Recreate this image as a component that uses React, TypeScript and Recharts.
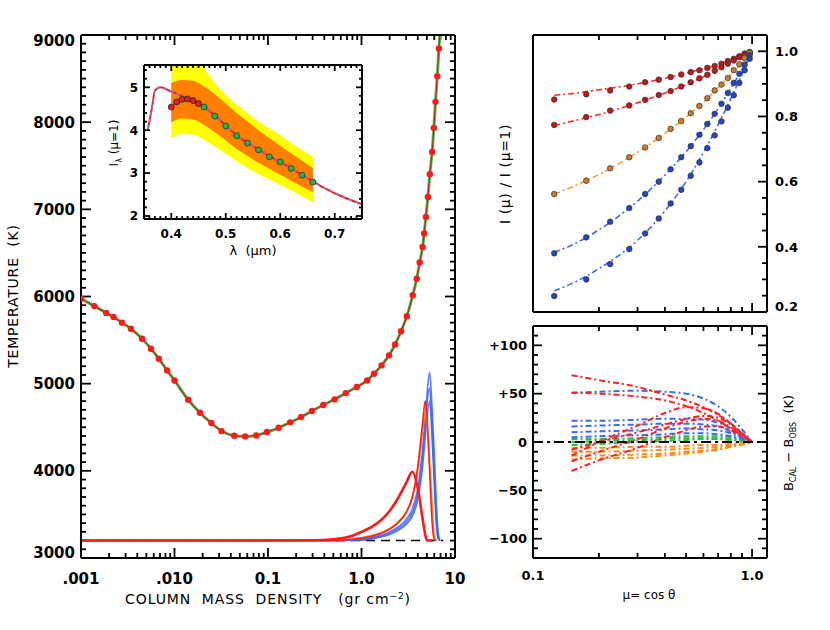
import React from 'react';
import { ComposedChart, Line, Area, XAxis, YAxis, ReferenceLine } from 'recharts';

const FONT = "'DejaVu Sans', 'Liberation Sans', sans-serif";

// ---- main panel: temperature model (red dots on the green curve)
const MASS = [0.001, 0.00139, 0.00186, 0.00223, 0.00274, 0.00342, 0.00449, 0.00561, 0.00679, 0.00834, 0.01, 0.014, 0.0187, 0.0248, 0.0318, 0.0435, 0.057, 0.0748, 0.0975, 0.13, 0.173, 0.226, 0.295, 0.39, 0.516, 0.679, 0.891, 1.15, 1.36, 1.64, 1.97, 2.29, 2.65, 3.05, 3.53, 3.9, 4.19, 4.5, 4.68, 4.88, 5.13, 5.38, 5.7, 5.94, 6.19, 6.46, 6.73, 7.24];
const TEMP = [5975, 5890, 5812, 5765, 5700, 5630, 5516, 5401, 5286, 5152, 5037, 4816, 4666, 4548, 4456, 4403, 4395, 4406, 4445, 4494, 4556, 4617, 4686, 4755, 4820, 4892, 4961, 5037, 5114, 5210, 5325, 5450, 5601, 5773, 6014, 6205, 6390, 6568, 6722, 6912, 7142, 7403, 7659, 7934, 8233, 8527, 8846, 9400];

// response functions, drawn on top of the 3200 K baseline
const BASE_T = 3200;
const BASE_MASS = [0.001, 7.5];
const RESP_MASS = [0.001, 0.1, 0.3, 0.5, 0.8, 1.0, 1.3, 1.6, 2.0, 2.5, 3.0, 3.5, 4.0, 4.5, 4.8, 5.0, 5.35, 5.7, 6.0, 6.3, 6.6, 6.9];
const RESP_RED = [3200, 3200, 3203, 3215, 3255, 3300, 3360, 3430, 3540, 3700, 3860, 3990, 3800, 3450, 3270, 3205, 3200, 3200, null, null, null, null];
const RESP_ORANGE = [3200, 3200, 3201, 3205, 3220, 3235, 3260, 3290, 3340, 3420, 3530, 3700, 4000, 4450, 4680, 4550, 4100, 3600, 3250, 3200, null, null];
const RESP_RED2 = [3200, 3200, 3200, 3203, 3215, 3228, 3250, 3280, 3330, 3410, 3520, 3700, 4050, 4550, 4800, 4650, 4000, 3400, 3210, 3200, null, null];
const RESP_BLUE1 = [3200, 3200, 3200, 3202, 3208, 3215, 3235, 3260, 3300, 3360, 3440, 3560, 3800, 4250, 4600, 4850, 5130, 4700, 4200, 3650, 3300, 3200];
const RESP_BLUE2 = [3200, 3200, 3200, 3201, 3205, 3210, 3228, 3250, 3285, 3340, 3410, 3520, 3730, 4150, 4500, 4750, 4950, 4500, 4000, 3500, 3250, 3200];
const RESP_BLUE3 = [3200, 3200, 3200, 3201, 3203, 3205, 3220, 3240, 3270, 3320, 3385, 3480, 3670, 4050, 4380, 4600, 4800, 4350, 3850, 3400, 3220, 3200];

// ---- inset: I_lambda(mu=1)
const LAM_MODEL = [0.357, 0.365, 0.37, 0.38, 0.39, 0.40, 0.42, 0.44, 0.46, 0.48, 0.50, 0.52, 0.54, 0.56, 0.58, 0.60, 0.62, 0.64, 0.66, 0.70, 0.75];
const I_MODEL = [4.02, 4.55, 4.92, 5.0, 4.96, 4.9, 4.8, 4.68, 4.55, 4.34, 4.11, 3.88, 3.71, 3.55, 3.39, 3.26, 3.11, 2.96, 2.8, 2.53, 2.27];
const LAM_RED = [0.40, 0.41, 0.42, 0.43, 0.44, 0.45];
const I_RED = [4.54, 4.66, 4.72, 4.73, 4.69, 4.62];
const LAM_GREEN = [0.46, 0.48, 0.50, 0.52, 0.54, 0.56, 0.58, 0.60, 0.62, 0.64, 0.66];
const I_GREEN = [4.54, 4.33, 4.10, 3.87, 3.70, 3.54, 3.38, 3.26, 3.11, 2.95, 2.79];
const LAM_BAND = [0.40, 0.42, 0.44, 0.46, 0.48, 0.50, 0.52, 0.54, 0.56, 0.58, 0.60, 0.62, 0.64, 0.66];
const YEL_HI = [5.9, 5.95, 5.75, 5.45, 5.1, 4.82, 4.6, 4.4, 4.2, 4.04, 3.88, 3.7, 3.54, 3.38];
const YEL_LO = [3.8, 3.92, 3.9, 3.78, 3.62, 3.45, 3.27, 3.12, 2.98, 2.85, 2.72, 2.6, 2.46, 2.32];
const ORA_HI = [5.1, 5.17, 5.15, 5.02, 4.84, 4.62, 4.4, 4.2, 4.0, 3.82, 3.64, 3.46, 3.29, 3.12];
const ORA_LO = [4.18, 4.27, 4.25, 4.12, 3.95, 3.76, 3.56, 3.4, 3.24, 3.1, 2.96, 2.82, 2.68, 2.56];

// ---- top right: centre-to-limb variation, observed (dots) and fitted (dash-dot)
const MU_OBS = [0.125, 0.175, 0.225, 0.275, 0.325, 0.375, 0.425, 0.475, 0.525, 0.575, 0.625, 0.675, 0.725, 0.775, 0.825, 0.875, 0.925, 0.975];
const CLV_1 = [0.852, 0.868, 0.880, 0.892, 0.905, 0.913, 0.921, 0.929, 0.936, 0.942, 0.949, 0.955, 0.962, 0.970, 0.977, 0.985, 0.993, 0.997];
const CLV_2 = [0.774, 0.798, 0.818, 0.834, 0.851, 0.866, 0.878, 0.892, 0.905, 0.917, 0.928, 0.940, 0.951, 0.962, 0.972, 0.982, 0.990, 0.998];
const CLV_3 = [0.562, 0.603, 0.641, 0.675, 0.705, 0.734, 0.762, 0.786, 0.810, 0.832, 0.856, 0.880, 0.898, 0.918, 0.942, 0.960, 0.980, 0.995];
const CLV_4 = [0.380, 0.429, 0.477, 0.519, 0.562, 0.600, 0.638, 0.675, 0.709, 0.744, 0.777, 0.808, 0.839, 0.872, 0.903, 0.931, 0.959, 0.988];
const CLV_5 = [0.249, 0.300, 0.347, 0.393, 0.441, 0.487, 0.533, 0.575, 0.618, 0.659, 0.703, 0.742, 0.785, 0.827, 0.865, 0.903, 0.942, 0.977];
const MU_FIT = [0.125, 0.15, 0.2, 0.3, 0.4, 0.5, 0.6, 0.7, 0.8, 0.9, 1.0];
const FIT_1 = [0.865, 0.870, 0.882, 0.900, 0.917, 0.933, 0.947, 0.960, 0.973, 0.986, 1.0];
const FIT_2 = [0.772, 0.785, 0.806, 0.842, 0.872, 0.898, 0.922, 0.945, 0.965, 0.983, 1.0];
const FIT_3 = [0.562, 0.583, 0.622, 0.690, 0.748, 0.798, 0.845, 0.888, 0.928, 0.965, 1.0];
const FIT_4 = [0.383, 0.405, 0.452, 0.540, 0.620, 0.692, 0.760, 0.824, 0.886, 0.944, 1.0];
const FIT_5 = [0.265, 0.287, 0.333, 0.420, 0.510, 0.600, 0.690, 0.775, 0.855, 0.930, 1.0];

// ---- bottom right: B_cal - B_obs residuals
const MU_RES = [0.15, 0.2, 0.3, 0.4, 0.5, 0.6, 0.7, 0.8, 0.9, 1.0];
const RES_ORANGE = [
  [-6, -6, -5, -5, -4, -3, -3, -2, -1, 0],
  [-10, -10, -9, -8, -7, -6, -5, -3, -2, 0],
  [-14, -14, -13, -12, -10, -9, -7, -5, -2, 0],
  [-18, -17, -16, -14, -12, -10, -8, -5, -3, 0],
];
const RES_GREEN = [
  [3, 3, 4, 5, 6, 6, 6, 5, 3, 0],
  [0, 1, 2, 3, 4, 4, 4, 3, 2, 0],
  [-3, -2, 0, 1, 2, 3, 3, 2, 1, 0],
];
const RES_BLUE = [
  [51, 52, 53, 52, 50, 45, 37, 26, 13, 0],
  [22, 22, 23, 24, 24, 23, 20, 14, 7, 0],
  [16, 17, 18, 19, 19, 18, 16, 11, 5, 0],
  [10, 11, 12, 13, 14, 13, 12, 9, 4, 0],
  [5, 6, 7, 8, 9, 9, 8, 6, 3, 0],
];
const RES_RED = [
  [69, 64, 57, 49, 43, 36, 28, 19, 9, 0],
  [51, 50, 47, 43, 37, 30, 22, 14, 7, 0],
  [-14, 0, 17, 30, 36, 35, 29, 19, 9, 0],
  [-8, 0, 10, 18, 24, 27, 25, 18, 8, 0],
  [-20, -10, 3, 14, 21, 24, 22, 15, 7, 0],
  [-30, -19, -6, 5, 12, 16, 16, 12, 6, 0],
];

const pts = (xs: number[], ys: (number | null)[]) => xs.map((x, i) => ({ x, y: ys[i] }));

const logTicks = (lo: number, hi: number) => {
  const out: number[] = [];
  for (let d = lo; d < hi * 0.999; d = +(d * 10).toPrecision(6)) {
    for (let k = 1; k < 10; k++) out.push(+(d * k).toPrecision(6));
  }
  out.push(hi);
  return out;
};
const linTicks = (lo: number, hi: number, step: number) => {
  const out: number[] = [];
  for (let v = lo; v <= hi + step / 1000; v += step) out.push(+v.toFixed(4));
  return out;
};
const near = (a: number, b: number) => Math.abs(a - b) <= 1e-6 * Math.max(1e-3, Math.abs(b));

type Side = 'top' | 'bottom' | 'left' | 'right';
type LabCfg = { side: Side; fmt: (v: number) => string; fs?: number; gap?: number; lo?: number; hi?: number };

// tick label text only
const labelRenderer = (c: LabCfg) => (p: any) => {
  const { x, y, payload } = p;
  const label = c.fmt(Number(payload.value));
  if (!label) return <g />;
  const fs = c.fs ?? 14;
  const gap = c.gap ?? 6;
  if (c.side === 'bottom') {
    return <text x={x} y={y + gap} textAnchor="middle" fontFamily={FONT} fontSize={fs} fontWeight="bold" fill="#000">{label}</text>;
  }
  const ty = Math.min(Math.max(y, c.lo ?? -1e9), c.hi ?? 1e9);
  return (
    <text x={c.side === 'left' ? x - gap : x + gap} y={ty} dy="0.36em" textAnchor={c.side === 'left' ? 'end' : 'start'} fontFamily={FONT} fontSize={fs} fontWeight="bold" fill="#000">
      {label}
    </text>
  );
};

const AX = { stroke: '#000', strokeWidth: 2 };

// frame: four mirrored axes that only draw their axis line
function frame(xd: number[], yd: number[], xlog: boolean) {
  const xs: any = { type: 'number', domain: xd, allowDataOverflow: true, scale: xlog ? 'log' : 'auto', mirror: true, tick: false, tickLine: false, axisLine: AX };
  const ys: any = { type: 'number', domain: yd, allowDataOverflow: true, mirror: true, tick: false, tickLine: false, axisLine: AX };
  return [
    <XAxis key="fb" xAxisId="fb" orientation="bottom" {...xs} />,
    <XAxis key="ft" xAxisId="ft" orientation="top" {...xs} />,
    <YAxis key="fl" yAxisId="fl" orientation="left" {...ys} />,
    <YAxis key="fr" yAxisId="fr" orientation="right" {...ys} />,
  ];
}

// inward tick marks drawn as short reference segments; len in px converted through the plot size
type Box = { xd: number[]; yd: number[]; xlog: boolean; w: number; h: number };
function tickMarks(id: string, side: Side, vals: number[], majors: number[], big: number, small: number, b: Box) {
  return vals.map((v, i) => {
    const len = majors.some((m) => near(v, m)) ? big : small;
    let seg;
    if (side === 'bottom' || side === 'top') {
      const y0 = side === 'bottom' ? b.yd[0] : b.yd[1];
      const dir = side === 'bottom' ? 1 : -1;
      seg = [{ x: v, y: y0 }, { x: v, y: y0 + (dir * len * (b.yd[1] - b.yd[0])) / b.h }];
    } else {
      const x0 = side === 'left' ? b.xd[0] : b.xd[1];
      const dir = side === 'left' ? 1 : -1;
      const x1 = b.xlog ? x0 * Math.pow(b.xd[1] / b.xd[0], (dir * len) / b.w) : x0 + (dir * len * (b.xd[1] - b.xd[0])) / b.w;
      seg = [{ x: x0, y: v }, { x: x1, y: v }];
    }
    return <ReferenceLine key={id + i} xAxisId="b" yAxisId="l" segment={seg} stroke="#000" strokeWidth={1.8} ifOverflow="visible" />;
  });
}

const MAIN_XD = [0.001, 10];
const MAIN_YD = [3000, 9000];
const MAIN_BOX: Box = { xd: MAIN_XD, yd: MAIN_YD, xlog: true, w: 374, h: 523 };
const MAIN_XT = logTicks(0.001, 10);
const MAIN_XMAJ = [0.001, 0.01, 0.1, 1, 10];
const MAIN_XLAB: [number, string][] = [[0.001, '.001'], [0.01, '.010'], [0.1, '0.1'], [1, '1.0'], [10, '10']];
const MAIN_YT = linTicks(3000, 9000, 100);
const MAIN_YMAJ = [3000, 4000, 5000, 6000, 7000, 8000, 9000];

const INS_XD = [0.35, 0.75];
const INS_YD = [1.93, 5.52];
const INS_BOX: Box = { xd: INS_XD, yd: INS_YD, xlog: false, w: 218, h: 154 };
const INS_XT = linTicks(0.35, 0.75, 0.01);
const INS_XMAJ = [0.4, 0.5, 0.6, 0.7];
const INS_YT = linTicks(2, 5.4, 0.2);
const INS_YMAJ = [2, 3, 4, 5];

const MU_XD = [0.1, 1.17];
const MU_XT = logTicks(0.1, 1);
const MU_XMAJ = [0.1, 1];
const CLV_YD = [0.2, 1.05];
const CLV_BOX: Box = { xd: MU_XD, yd: CLV_YD, xlog: true, w: 234, h: 277 };
const CLV_YT = linTicks(0.25, 1.0, 0.05);
const CLV_YMAJ = [0.2, 0.4, 0.6, 0.8, 1.0];
const RES_YD = [-120, 120];
const RES_BOX: Box = { xd: MU_XD, yd: RES_YD, xlog: true, w: 234, h: 232 };
const RES_YT = linTicks(-110, 110, 10);
const RES_YMAJ = [-100, -50, 0, 50, 100];
const RES_LAB: [number, string][] = [[-100, '\u2212100'], [-50, '\u221250'], [0, '0'], [50, '+50'], [100, '+100']];

const lookup = (tbl: [number, string][]) => (v: number) => (tbl.find(([k]) => near(v, k)) || [0, ''])[1];

const Txt = ({ x, y, rot, size, ls, children }: any) => (
  <div
    style={{
      position: 'absolute',
      left: x,
      top: y,
      transform: `translate(-50%, -50%)${rot ? ' rotate(-90deg)' : ''}`,
      fontFamily: FONT,
      fontSize: size,
      letterSpacing: ls,
      whiteSpace: 'pre',
      lineHeight: 1,
      color: '#000',
    }}
  >
    {children}
  </div>
);

const dashDot = '6 3 2 3';

export default function App() {
  const tempData = pts(MASS, TEMP);
  const fits = [FIT_1, FIT_2, FIT_3, FIT_4, FIT_5];
  const obs = [CLV_1, CLV_2, CLV_3, CLV_4, CLV_5];
  const fitColors = ['#ff2a2a', '#ff2a2a', '#ff9a33', '#3a6cf0', '#3a6cf0'];
  const dotColors = ['#c01818', '#c01818', '#c97a2e', '#2445c8', '#2445c8'];

  return (
    <div style={{ position: 'fixed', left: 0, top: 0, width: 830, height: 630, background: '#fff', overflow: 'hidden' }}>
      {/* main panel */}
      <div style={{ position: 'absolute', left: 0, top: 0 }}>
        <ComposedChart width={480} height={630} margin={{ top: 35, right: 25, bottom: 0, left: 0 }}>
          <XAxis xAxisId="b" dataKey="x" type="number" scale="log" domain={MAIN_XD} allowDataOverflow ticks={MAIN_XMAJ} interval={0} height={72} tickSize={0} tickMargin={0} axisLine={false} tickLine={false} tick={labelRenderer({ side: 'bottom', fmt: lookup(MAIN_XLAB), fs: 15, gap: 26 })} />
          <YAxis yAxisId="l" type="number" domain={MAIN_YD} allowDataOverflow ticks={MAIN_YMAJ} interval={0} width={81} tickSize={0} tickMargin={0} axisLine={false} tickLine={false} tick={labelRenderer({ side: 'left', fmt: (v) => String(v), fs: 15, gap: 6, lo: 41, hi: 553 })} />
          {frame(MAIN_XD, MAIN_YD, true)}
          {tickMarks('mb', 'bottom', MAIN_XT, MAIN_XMAJ, 10, 5, MAIN_BOX)}
          {tickMarks('mt', 'top', MAIN_XT, MAIN_XMAJ, 10, 5, MAIN_BOX)}
          {tickMarks('ml', 'left', MAIN_YT, MAIN_YMAJ, 10, 5, MAIN_BOX)}
          {tickMarks('mr', 'right', MAIN_YT, MAIN_YMAJ, 10, 5, MAIN_BOX)}
          <Line xAxisId="b" yAxisId="l" data={pts(BASE_MASS, [BASE_T, BASE_T])} dataKey="y" stroke="#000" strokeWidth={1.5} strokeDasharray="9 6" dot={false} activeDot={false} isAnimationActive={false} />
          {[RESP_BLUE3, RESP_BLUE2, RESP_BLUE1].map((r, i) => (
            <Line key={'b' + i} xAxisId="b" yAxisId="l" data={pts(RESP_MASS, r)} dataKey="y" type="monotone" stroke="#3b63f5" strokeOpacity={0.85} strokeWidth={1.6} dot={false} activeDot={false} isAnimationActive={false} />
          ))}
          <Line xAxisId="b" yAxisId="l" data={pts(RESP_MASS, RESP_ORANGE)} dataKey="y" type="monotone" stroke="#ff8c1a" strokeWidth={1.6} dot={false} activeDot={false} isAnimationActive={false} />
          <Line xAxisId="b" yAxisId="l" data={pts(RESP_MASS, RESP_RED2)} dataKey="y" type="monotone" stroke="#ff2020" strokeWidth={1.6} dot={false} activeDot={false} isAnimationActive={false} />
          <Line xAxisId="b" yAxisId="l" data={pts(RESP_MASS, RESP_RED)} dataKey="y" type="monotone" stroke="#ff1a1a" strokeWidth={2.6} dot={false} activeDot={false} isAnimationActive={false} />
          <Line xAxisId="b" yAxisId="l" data={tempData} dataKey="y" type="monotone" stroke="#5cb85c" strokeWidth={3} dot={false} activeDot={false} isAnimationActive={false} />
          <Line xAxisId="b" yAxisId="l" data={tempData} dataKey="y" type="monotone" stroke="#a8321e" strokeWidth={1.2} dot={{ r: 3.2, fill: '#ff1a1a', stroke: 'none' }} activeDot={false} isAnimationActive={false} />
        </ComposedChart>
      </div>

      {/* inset */}
      <div style={{ position: 'absolute', left: 100, top: 60 }}>
        <ComposedChart width={270} height={200} margin={{ top: 5, right: 8, bottom: 0, left: 0 }}>
          <XAxis xAxisId="b" dataKey="x" type="number" domain={INS_XD} allowDataOverflow ticks={INS_XMAJ} interval={0} height={41} tickSize={0} tickMargin={0} axisLine={false} tickLine={false} tick={labelRenderer({ side: 'bottom', fmt: (v) => v.toFixed(1), fs: 12, gap: 19 })} />
          <YAxis yAxisId="l" type="number" domain={INS_YD} allowDataOverflow ticks={INS_YMAJ} interval={0} width={44} tickSize={0} tickMargin={0} axisLine={false} tickLine={false} tick={labelRenderer({ side: 'left', fmt: (v) => String(v), fs: 12, gap: 6 })} />
          {frame(INS_XD, INS_YD, false)}
          <Area xAxisId="b" yAxisId="l" data={LAM_BAND.map((x, i) => ({ x, y: [YEL_LO[i], YEL_HI[i]] }))} dataKey="y" type="monotone" stroke="none" fill="#ffff00" fillOpacity={1} isAnimationActive={false} activeDot={false} />
          <Area xAxisId="b" yAxisId="l" data={LAM_BAND.map((x, i) => ({ x, y: [ORA_LO[i], ORA_HI[i]] }))} dataKey="y" type="monotone" stroke="none" fill="#ff8000" fillOpacity={1} isAnimationActive={false} activeDot={false} />
          <Line xAxisId="b" yAxisId="l" data={pts(LAM_MODEL, I_MODEL)} dataKey="y" type="monotone" stroke="#ee1c25" strokeWidth={2} dot={false} activeDot={false} isAnimationActive={false} />
          <Line xAxisId="b" yAxisId="l" data={pts(LAM_MODEL, I_MODEL)} dataKey="y" type="monotone" stroke="#6f8fe0" strokeWidth={1.2} strokeDasharray="4 3" dot={false} activeDot={false} isAnimationActive={false} />
          <Line xAxisId="b" yAxisId="l" data={pts(LAM_RED, I_RED)} dataKey="y" stroke="none" dot={{ r: 3, fill: '#e02020', stroke: '#222', strokeWidth: 0.8 }} activeDot={false} isAnimationActive={false} />
          <Line xAxisId="b" yAxisId="l" data={pts(LAM_GREEN, I_GREEN)} dataKey="y" stroke="none" dot={{ r: 3, fill: '#22b14c', stroke: '#333', strokeWidth: 0.8 }} activeDot={false} isAnimationActive={false} />
          {tickMarks('ib', 'bottom', INS_XT, INS_XMAJ, 6, 3, INS_BOX)}
          {tickMarks('it', 'top', INS_XT, INS_XMAJ, 6, 3, INS_BOX)}
          {tickMarks('il', 'left', INS_YT, INS_YMAJ, 6, 3, INS_BOX)}
          {tickMarks('ir', 'right', INS_YT, INS_YMAJ, 6, 3, INS_BOX)}
        </ComposedChart>
      </div>

      {/* top right: I(mu)/I(1) */}
      <div style={{ position: 'absolute', left: 490, top: 0 }}>
        <ComposedChart width={340} height={320} margin={{ top: 35, right: 0, bottom: 0, left: 0 }}>
          <XAxis xAxisId="b" dataKey="x" type="number" scale="log" domain={MU_XD} allowDataOverflow height={8} axisLine={false} tick={false} tickLine={false} />
          <YAxis yAxisId="l" type="number" domain={CLV_YD} allowDataOverflow width={43} axisLine={false} tick={false} tickLine={false} />
          <YAxis yAxisId="r" orientation="right" type="number" domain={CLV_YD} allowDataOverflow ticks={CLV_YMAJ} interval={0} width={63} tickSize={0} tickMargin={0} axisLine={false} tickLine={false} tick={labelRenderer({ side: 'right', fmt: (v) => v.toFixed(1), fs: 13, gap: 8, hi: 306 })} />
          {frame(MU_XD, CLV_YD, true)}
          {tickMarks('cb', 'bottom', MU_XT, MU_XMAJ, 9, 5, CLV_BOX)}
          {tickMarks('ct', 'top', MU_XT, MU_XMAJ, 9, 5, CLV_BOX)}
          {tickMarks('cr', 'right', CLV_YT, CLV_YMAJ, 9, 5, CLV_BOX)}
          {fits.map((f, i) => (
            <Line key={'f' + i} xAxisId="b" yAxisId="l" data={pts(MU_FIT, f)} dataKey="y" type="monotone" stroke={fitColors[i]} strokeWidth={1.6} strokeDasharray={dashDot} dot={false} activeDot={false} isAnimationActive={false} />
          ))}
          {obs.map((o, i) => (
            <Line key={'o' + i} xAxisId="b" yAxisId="l" data={pts(MU_OBS, o)} dataKey="y" stroke="none" dot={{ r: 2.8, fill: dotColors[i], stroke: '#333', strokeWidth: 0.7 }} activeDot={false} isAnimationActive={false} />
          ))}
        </ComposedChart>
      </div>

      {/* bottom right: residuals */}
      <div style={{ position: 'absolute', left: 490, top: 320 }}>
        <ComposedChart width={340} height={310} margin={{ top: 6, right: 0, bottom: 0, left: 0 }}>
          <XAxis xAxisId="b" dataKey="x" type="number" scale="log" domain={MU_XD} allowDataOverflow ticks={MU_XMAJ} interval={0} height={72} tickSize={0} tickMargin={0} axisLine={false} tickLine={false} tick={labelRenderer({ side: 'bottom', fmt: (v) => v.toFixed(1), fs: 13, gap: 22 })} />
          <YAxis yAxisId="l" type="number" domain={RES_YD} allowDataOverflow ticks={RES_YMAJ} interval={0} width={43} tickSize={0} tickMargin={0} axisLine={false} tickLine={false} tick={labelRenderer({ side: 'left', fmt: lookup(RES_LAB), fs: 13, gap: 6 })} />
          <YAxis yAxisId="r" orientation="right" type="number" domain={RES_YD} allowDataOverflow width={63} axisLine={false} tick={false} tickLine={false} />
          {frame(MU_XD, RES_YD, true)}
          {tickMarks('rb', 'bottom', MU_XT, MU_XMAJ, 9, 5, RES_BOX)}
          {tickMarks('rt', 'top', MU_XT, MU_XMAJ, 9, 5, RES_BOX)}
          {tickMarks('rl', 'left', RES_YT, RES_YMAJ, 9, 5, RES_BOX)}
          {tickMarks('rr', 'right', RES_YT, RES_YMAJ, 9, 5, RES_BOX)}
          {RES_ORANGE.map((r, i) => (
            <Line key={'ro' + i} xAxisId="b" yAxisId="l" data={pts(MU_RES, r)} dataKey="y" type="monotone" stroke="#ff8c1a" strokeWidth={2} strokeDasharray={dashDot} dot={false} activeDot={false} isAnimationActive={false} />
          ))}
          {RES_GREEN.map((r, i) => (
            <Line key={'rg' + i} xAxisId="b" yAxisId="l" data={pts(MU_RES, r)} dataKey="y" type="monotone" stroke="#2cb84a" strokeWidth={2} strokeDasharray={dashDot} dot={false} activeDot={false} isAnimationActive={false} />
          ))}
          {RES_BLUE.map((r, i) => (
            <Line key={'rb' + i} xAxisId="b" yAxisId="l" data={pts(MU_RES, r)} dataKey="y" type="monotone" stroke="#3a6cf0" strokeWidth={2} strokeDasharray={dashDot} dot={false} activeDot={false} isAnimationActive={false} />
          ))}
          {RES_RED.map((r, i) => (
            <Line key={'rr' + i} xAxisId="b" yAxisId="l" data={pts(MU_RES, r)} dataKey="y" type="monotone" stroke="#ff2020" strokeWidth={2} strokeDasharray={dashDot} dot={false} activeDot={false} isAnimationActive={false} />
          ))}
          <ReferenceLine xAxisId="b" yAxisId="l" y={0} stroke="#000" strokeWidth={2} strokeDasharray="10 4 3 4" />
        </ComposedChart>
      </div>

      <Txt x={13} y={296} rot size={14} ls={0.8}>TEMPERATURE  (K)</Txt>
      <Txt x={268} y={599} size={14} ls={0.9}>
        COLUMN  MASS  DENSITY   (gr cm<sup style={{ fontSize: 9 }}>{'\u22122'}</sup>)
      </Txt>
      <Txt x={116} y={143} rot size={12}>
        I<sub style={{ fontSize: 8 }}>λ</sub> (μ=1)
      </Txt>
      <Txt x={253} y={250} size={13}>λ  (μm)</Txt>
      <Txt x={505} y={174} rot size={14} ls={0.6}>I (μ) / I (μ=1)</Txt>
      <Txt x={790} y={443} rot size={13}>
        B<sub style={{ fontSize: 8 }}>CAL</sub> {'\u2212'} B<sub style={{ fontSize: 8 }}>OBS</sub>  (K)
      </Txt>
      <Txt x={649} y={595} size={12}>μ= cos θ</Txt>
    </div>
  );
}
